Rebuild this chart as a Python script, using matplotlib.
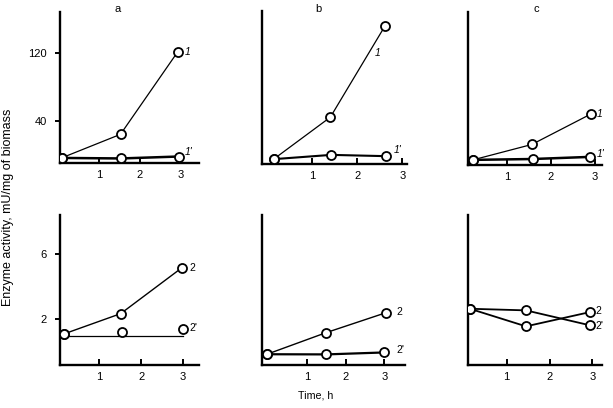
import matplotlib
matplotlib.use("Agg")
import matplotlib.pyplot as plt

plt.rcParams['font.family'] = ['Liberation Sans', 'DejaVu Sans']

# ---- data ----
# top row: enzyme activity (mU/mg), series 1 and 1'
top_a_x1 = [0.08, 1.53, 2.94]
top_a_y1 = [-4, 24, 122]
top_a_x1p = [0.08, 1.55, 2.97]
top_a_y1p = [-4, -4.6, -2.3]

top_b_x1 = [0.16, 1.41, 2.62]
top_b_y1 = [-4, 45, 152]
top_b_x1p = [0.16, 1.43, 2.64]
top_b_y1p = [-4, 1, -0.5]

top_c_x1 = [0.23, 1.57, 2.93]
top_c_y1 = [-4, 14, 50]
top_c_x1p = [0.23, 1.59, 2.90]
top_c_y1p = [-4, -3, -0.5]

# bottom row: series 2 and 2'
bot_a_x2 = [0.15, 1.51, 2.98]
bot_a_y2 = [1.1, 2.35, 5.18]
bot_a_x2p = [0.15, 1.55, 3.0]
bot_a_y2p = [1.1, 1.2, 1.38]
bot_a_fit_x = [0.15, 3.0]
bot_a_fit_y = [1.0, 1.0]

bot_b_x2 = [-0.03, 1.49, 3.03]
bot_b_y2 = [-0.14, 1.18, 2.4]
bot_b_x2p = [-0.03, 1.5, 3.0]
bot_b_y2p = [-0.14, -0.15, -0.03]

bot_c_x2 = [0.14, 1.45, 2.95]
bot_c_y2 = [2.65, 1.57, 2.45]
bot_c_x2p = [0.14, 1.45, 2.95]
bot_c_y2p = [2.65, 2.55, 1.63]

panel_titles = ['a', 'b', 'c']
x_ticks = [1, 2, 3]
top_yticks = [40, 120]
bot_yticks = [2, 6]

W, H = 613, 408
fig = plt.figure(figsize=(W / 100, H / 100), dpi=100)


def add_ax(l, r, t, b):
    return fig.add_axes([l / W, 1 - b / H, (r - l) / W, (b - t) / H])


def style(ax, xlim, ylim, yticks=None):
    ax.set_xlim(*xlim)
    ax.set_ylim(*ylim)
    for s in ['top', 'right']:
        ax.spines[s].set_visible(False)
    for s in ['left', 'bottom']:
        ax.spines[s].set_linewidth(1.7)
    ax.set_xticks(x_ticks)
    ax.set_xticklabels([str(t) for t in x_ticks])
    ax.tick_params(axis='x', direction='in', length=4, width=1.4, labelsize=8, pad=5)
    if yticks:
        ax.set_yticks(yticks)
        ax.set_yticklabels([str(t) for t in yticks])
        ax.tick_params(axis='y', direction='out', length=3.5, width=1.4, labelsize=8, pad=5.5)
    else:
        ax.set_yticks([])
    ax.patch.set_alpha(0)


mk = dict(marker='o', markersize=6.5, markerfacecolor='white',
          markeredgecolor='black', markeredgewidth=1.3, color='black', zorder=3)

top_ylim = (-10, 169)
bot_ylim = (-0.8, 8.4)

# ---- top a ----
ax = add_ax(59.5, 199, 12, 163)
style(ax, (0.03, 3.46), top_ylim, top_yticks)
ax.plot(top_a_x1p, top_a_y1p, lw=1.8, **mk)
ax.plot(top_a_x1, top_a_y1, lw=0.9, **mk)
ax.text(3.1, 122, '1', fontsize=7.5, style='italic', va='center')
ax.text(3.1, 3, "1'", fontsize=7.5, style='italic', va='center')

# ---- top b ----
ax = add_ax(262.3, 407, 11, 164.3)
style(ax, (-0.09, 3.1), top_ylim)
ax.plot(top_b_x1p, top_b_y1p, lw=1.5, **mk)
ax.plot(top_b_x1, top_b_y1, lw=0.9, **mk)
ax.text(2.38, 120, '1', fontsize=7.5, style='italic', va='center')
ax.text(2.8, 7, "1'", fontsize=7.5, style='italic', va='center')

# ---- top c ----
ax = add_ax(467.7, 602, 12, 165)
style(ax, (0.11, 3.17), top_ylim)
ax.plot(top_c_x1p, top_c_y1p, lw=1.8, **mk)
ax.plot(top_c_x1, top_c_y1, lw=0.9, **mk)
ax.text(3.06, 50, '1', fontsize=7.5, style='italic', va='center')
ax.text(3.06, 3, "1'", fontsize=7.5, style='italic', va='center')

# ---- bottom a ----
ax = add_ax(59.5, 199, 215, 365)
style(ax, (0.05, 3.38), bot_ylim, bot_yticks)
ax.plot(bot_a_fit_x, bot_a_fit_y, lw=0.9, color='black', zorder=2)
ax.plot(bot_a_x2p, bot_a_y2p, lw=0, **mk)
ax.plot(bot_a_x2, bot_a_y2, lw=1.0, **mk)
ax.text(3.15, 5.18, '2', fontsize=7.5, va='center')
ax.text(3.15, 1.45, "2'", fontsize=7.5, va='center')

# ---- bottom b ----
ax = add_ax(262.3, 405, 215, 365)
style(ax, (-0.15, 3.53), bot_ylim)
ax.plot(bot_b_x2p, bot_b_y2p, lw=1.6, **mk)
ax.plot(bot_b_x2, bot_b_y2, lw=1.0, **mk)
ax.text(3.3, 2.45, '2', fontsize=7.5, va='center')
ax.text(3.3, 0.15, "2'", fontsize=7.5, va='center')

# ---- bottom c ----
ax = add_ax(467.7, 602.3, 215, 365)
style(ax, (0.09, 3.23), bot_ylim)
ax.plot(bot_c_x2p, bot_c_y2p, lw=1.3, **mk)
ax.plot(bot_c_x2, bot_c_y2, lw=1.3, **mk)
ax.text(3.07, 2.5, '2', fontsize=7.5, va='center')
ax.text(3.07, 1.6, "2'", fontsize=7.5, va='center')

# panel titles
for t, xp in zip(panel_titles, [118, 318, 536]):
    fig.text(xp / W, 1 - 8.5 / H, t, fontsize=8, ha='center', va='center')

fig.text(316 / W, 1 - 396 / H, 'Time, h', fontsize=7.7, ha='center', va='center')
fig.text(8 / W, 1 - 207 / H, 'Enzyme activity, mU/mg of biomass', rotation=90,
         fontsize=9, ha='center', va='center')

fig.savefig('out.png', dpi=100)
